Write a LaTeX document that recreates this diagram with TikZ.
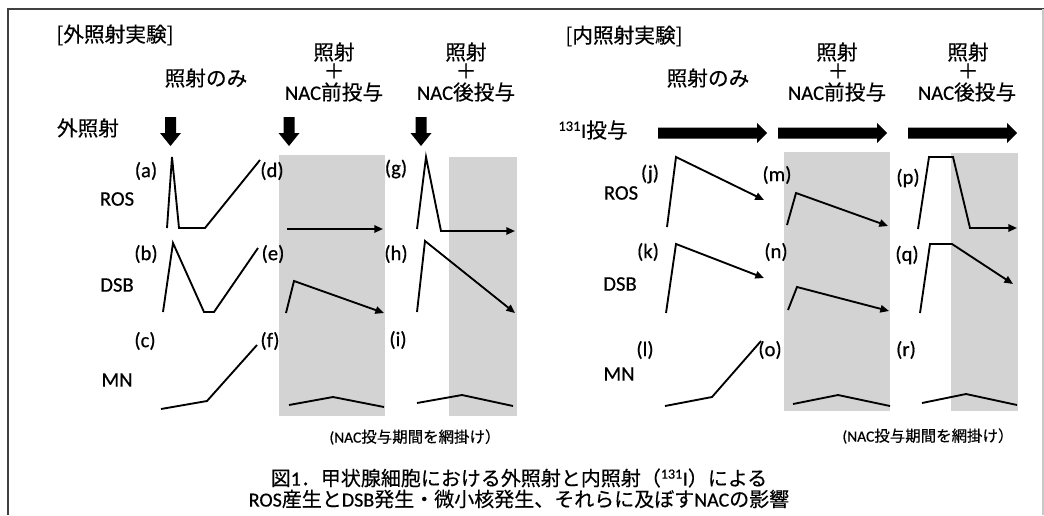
\documentclass[tikz,border=0pt]{standalone}
\usepackage{fontspec}
\setmainfont{Carlito}[FakeBold=0.5]
\newfontfamily\jp{Noto Sans CJK JP}[FakeBold=0.4]
\usetikzlibrary{arrows.meta}
\definecolor{nacgray}{RGB}{211,211,211}
\definecolor{framegray}{RGB}{64,64,64}
\definecolor{framelight}{RGB}{200,200,200}
\newcommand{\jt}[1]{{\jp #1}}
\begin{document}
\begin{tikzpicture}[x=0.75pt,y=-0.75pt,
  lbl/.style={font=\fontsize{15.5}{18}\selectfont, inner sep=0pt},
  hd/.style={font=\fontsize{15.5}{18}\selectfont, inner sep=0pt},
  notetxt/.style={font=\fontsize{11.6}{14}\selectfont, inner sep=0pt},
  captxt/.style={font=\fontsize{15}{18}\selectfont, inner sep=0pt},
  curve/.style={line width=1.4pt, line join=miter, line cap=butt},
  arr/.style={curve, -{Triangle[length=6.5pt,width=5.5pt]}},
  nacbox/.style={fill=nacgray, draw=none},
  blk/.style={fill=black, draw=none}]
\useasboundingbox (0,0) rectangle (1044,515);
\fill[white] (0,0) rectangle (1044,515);
% frame
\draw[framegray, line width=1.3pt] (8,515) -- (8,9) -- (1044,9);
\draw[framelight, line width=1pt] (1043,9) -- (1043,515);

% shaded NAC periods
\fill[nacbox] (279,155) rectangle (385,416);
\fill[nacbox] (449,157) rectangle (517,416);
\fill[nacbox] (784,152) rectangle (890,411);
\fill[nacbox] (951,153) rectangle (1018,411);

% ===== left panel texts =====
\node[hd] (tl) at (115,35) {\jt{[外照射実験]}};
\node[hd] (l1) at (206,78) {\jt{照射のみ}};
\node[hd] (l2a) at (334,52) {\jt{照射}};
\node[hd] (l2b) at (334,71) {\jt{＋}};
\node[hd] (l2c) at (334,92) {NAC\jt{前投与}};
\node[hd] (l3a) at (466,52) {\jt{照射}};
\node[hd] (l3b) at (466,71) {\jt{＋}};
\node[hd] (l3c) at (466,92) {NAC\jt{後投与}};
\node[hd] (ext) at (88,128) {\jt{外照射}};

% down block arrows
\foreach \cx in {170.5,289,421}{
  \fill[blk] (\cx-5.5,117) -- (\cx+5.5,117) -- (\cx+5.5,133) -- (\cx+10.5,133)
    -- (\cx,146) -- (\cx-10.5,133) -- (\cx-5.5,133) -- cycle;
}

\node[lbl] (la) at (146,171) {(a)};
\node[lbl] (ld) at (272,171) {(d)};
\node[lbl] (lg) at (396,169) {(g)};
\node[lbl] (ros1) at (117,199) {ROS};
\node[lbl] (lb) at (146,254) {(b)};
\node[lbl] (le) at (273,254) {(e)};
\node[lbl] (lh) at (396,254) {(h)};
\node[lbl] (dsb1) at (117,285) {DSB};
\node[lbl] (lc) at (145,341) {(c)};
\node[lbl] (lf) at (270,341) {(f)};
\node[lbl] (li) at (398,340) {(i)};
\node[lbl] (mn1) at (117,380) {MN};

% curves left
\draw[curve] (167,228) -- (172,157) -- (179,228) -- (205,228) -- (260,160);
\draw[curve] (163,312) -- (173,243) -- (204,312) -- (214,312) -- (258,248);
\draw[curve] (161,409) -- (207,401) -- (257,345);
\draw[arr] (287,229) -- (383,229);
\draw[arr] (286,313) -- (294,281) -- (384,313);
\draw[curve] (289,405) -- (333,397) -- (384,407);
\draw[arr] (417,229) -- (426,157) -- (441,231) -- (515,231);
\draw[arr] (417,312) -- (425,241) -- (515,313);
\draw[curve] (417,403) -- (462,395) -- (513,406);

\node[notetxt] (n1) at (415,437) {(NAC\jt{投与期間を網掛け）}};

% ===== right panel texts =====
\node[hd] (tr) at (624,36) {\jt{[内照射実験]}};
\node[hd] (r1) at (708,78) {\jt{照射のみ}};
\node[hd] (r2a) at (837,52) {\jt{照射}};
\node[hd] (r2b) at (838,71) {\jt{＋}};
\node[hd] (r2c) at (837,92) {NAC\jt{前投与}};
\node[hd] (r3a) at (968,52) {\jt{照射}};
\node[hd] (r3b) at (968,71) {\jt{＋}};
\node[hd] (r3c) at (967,92) {NAC\jt{後投与}};
\node[hd] (iod) at (593,130) {\textsuperscript{131}I\jt{投与}};

% right block arrows
\foreach \xa/\xb in {658/767,778/887,908/1017}{
  \fill[blk] (\xa,127.5) -- (\xb-10,127.5) -- (\xb-10,123) -- (\xb,133)
    -- (\xb-10,143) -- (\xb-10,138.5) -- (\xa,138.5) -- cycle;
}

\node[lbl] (lj) at (650,174) {(j)};
\node[lbl] (lm) at (777,175) {(m)};
\node[lbl] (lp) at (908,178) {(p)};
\node[lbl] (ros2) at (621,193) {ROS};
\node[lbl] (lk) at (648,252) {(k)};
\node[lbl] (ln) at (776,252) {(n)};
\node[lbl] (lq) at (907,255) {(q)};
\node[lbl] (dsb2) at (620,284) {DSB};
\node[lbl] (ll) at (645,350) {(l)};
\node[lbl] (lo) at (770,350) {(o)};
\node[lbl] (lr) at (906,350) {(r)};
\node[lbl] (mn2) at (619,374) {MN};

% curves right
\draw[arr] (667,227) -- (676,157) -- (764,200);
\draw[arr] (666,313) -- (676,244) -- (764,278);
\draw[curve] (665,406) -- (712,397) -- (761,341);
\draw[arr] (787,225) -- (796,193) -- (888,226);
\draw[arr] (788,310) -- (797,287) -- (889,311);
\draw[curve] (793,404) -- (838,395) -- (890,406);
\draw[arr] (918,229) -- (929,157) -- (953,157) -- (970,228) -- (1017,228);
\draw[arr] (920,313) -- (930,244) -- (952,244) -- (1013,284);
\draw[curve] (922,403) -- (966,394) -- (1017,405);

\node[notetxt] (n2) at (928,436) {(NAC\jt{投与期間を網掛け）}};

% caption
\node[captxt] (c1) at (519,478) {\jt{図}1\jt{．甲状腺細胞における外照射と内照射（}\textsuperscript{131}I\jt{）による}};
\node[captxt] (c2) at (519,499) {ROS\jt{産生と}DSB\jt{発生・微小核発生、それらに及ぼす}NAC\jt{の影響}};
\end{tikzpicture}
\end{document}
